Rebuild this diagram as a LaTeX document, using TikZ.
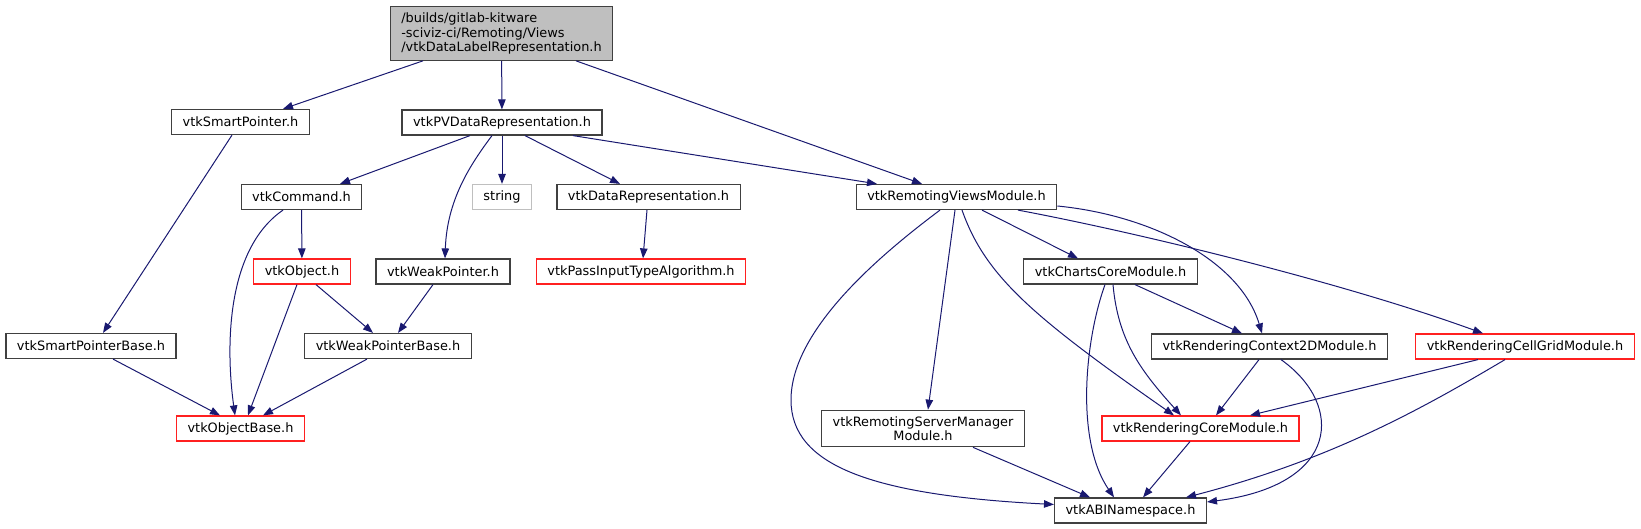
\documentclass[tikz,border=0pt]{standalone}
\usepackage{fontspec}
\setmainfont{DejaVu Sans}
\usetikzlibrary{arrows.meta}

\definecolor{edgeblue}{HTML}{191970}
\definecolor{boxgray}{HTML}{404040}
\definecolor{rootfill}{HTML}{BFBFBF}
\definecolor{stringgray}{HTML}{BFBFBF}
\definecolor{cutred}{HTML}{FF2020}

\tikzset{
	file/.style={draw=boxgray, line width=1.2pt, fill=white, rectangle, inner xsep=11pt, inner ysep=6pt, minimum height=25pt, font=\fontsize{12.9pt}{14.5pt}\selectfont, align=center},
	cutfile/.style={file, draw=cutred},
	sysfile/.style={file, draw=stringgray},
	rootfile/.style={file, fill=rootfill, align=left},
	dep/.style={->, draw=edgeblue, line width=1pt}
}

\begin{document}
\begin{tikzpicture}[x=1pt, y=-1pt, >={Triangle[length=10pt,width=7.5pt]}]
		\useasboundingbox (0,0) rectangle (1641,529);

		\draw (501.5,33.5) node[rootfile] (root) {/builds/gitlab-kitware\\-sciviz-ci/Remoting/Views\\/vtkDataLabelRepresentation.h};
		\draw (240.5,122) node[file] (smartptr) {vtkSmartPointer.h};
		\draw (502,122.5) node[file] (pvdatarep) {vtkPVDataRepresentation.h};
		\draw (301.5,197) node[file] (command) {vtkCommand.h};
		\draw (502,197) node[sysfile] (string) {string};
		\draw (648.5,197) node[file] (datarep) {vtkDataRepresentation.h};
		\draw (956.5,197) node[file] (remviews) {vtkRemotingViewsModule.h};
		\draw (302,271.5) node[cutfile] (object) {vtkObject.h};
		\draw (443,271.5) node[file] (weakptr) {vtkWeakPointer.h};
		\draw (641,271.5) node[cutfile] (passinput) {vtkPassInputTypeAlgorithm.h};
		\draw (1110.5,271.5) node[file] (charts) {vtkChartsCoreModule.h};
		\draw (91,346) node[file] (smartptrbase) {vtkSmartPointerBase.h};
		\draw (388,346) node[file] (weakptrbase) {vtkWeakPointerBase.h};
		\draw (1269.5,346.5) node[file] (rendctx) {vtkRenderingContext2DModule.h};
		\draw (1525,346.5) node[cutfile] (rendcell) {vtkRenderingCellGridModule.h};
		\draw (240.5,428.5) node[cutfile] (objbase) {vtkObjectBase.h};
		\draw (923,428.5) node[file] (remserver) {vtkRemotingServerManager\\Module.h};
		\draw (1200.5,428.5) node[cutfile] (rendcore) {vtkRenderingCoreModule.h};
		\draw (1130.5,510.5) node[file] (abins) {vtkABINamespace.h};

		\path[every edge/.append style={dep}]
		([xshift=-78.5pt]root.south) edge ([xshift=42.5pt]smartptr.north)
		(root) edge (pvdatarep)
		([xshift=74.5pt]root.south) edge ([xshift=-34.5pt]remviews.north)
		([xshift=-8.5pt]smartptr.south) edge ([xshift=12pt]smartptrbase.north)
		([xshift=-32pt]pvdatarep.south) edge ([xshift=38.5pt]command.north)
		(pvdatarep) edge (string)
		([xshift=23pt]pvdatarep.south) edge ([xshift=-28.5pt]datarep.north)
		([xshift=71pt]pvdatarep.south) edge ([xshift=-79.5pt]remviews.north)
		(command) edge (object)
		([xshift=-5pt]object.south) edge ([xshift=7.5pt]objbase.north)
		([xshift=14pt]object.south) edge ([xshift=-15pt]weakptrbase.north)
		([xshift=-10pt]weakptr.south) edge ([xshift=10pt]weakptrbase.north)
		([xshift=-1.5pt]datarep.south) edge ([xshift=2pt]passinput.north)
		([xshift=22pt]smartptrbase.south) edge ([xshift=-20.5pt]objbase.north)
		([xshift=-21pt]weakptrbase.south) edge ([xshift=22.5pt]objbase.north)
		([xshift=-1.5pt]remviews.south) edge ([xshift=5pt]remserver.north)
		([xshift=25.5pt]remviews.south) edge ([xshift=-32.5pt]charts.north)
		([xshift=24.5pt]charts.south) edge ([xshift=-27.5pt]rendctx.north)
		([xshift=-10.5pt]rendctx.south) edge ([xshift=15.5pt]rendcore.north)
		([xshift=-47pt]rendcell.south) edge ([xshift=49.5pt]rendcore.north)
		([xshift=50pt]remserver.south) edge ([xshift=-40.5pt]abins.north)
		([xshift=-10.5pt]rendcore.south) edge ([xshift=12.5pt]abins.north)
		;

		% curved dependencies
		\draw[dep] ([xshift=-10pt]pvdatarep.south) .. controls (470,165) and (447,200) .. ([xshift=2pt]weakptr.north);
		\draw[dep] ([xshift=-18.5pt]command.south) .. controls (225,250) and (226,350) .. ([xshift=-5.5pt]objbase.north);
		\draw[dep] ([xshift=-16.5pt]remviews.south) .. controls (880,255) and (791,330) .. (791,400) .. controls (791,465) and (870,495) .. ([yshift=6pt]abins.west);
		\draw[dep] ([xshift=5.5pt]remviews.south) .. controls (985,275) and (1030,315) .. ([xshift=-26.5pt]rendcore.north);
		\draw[dep] ([yshift=-9pt]remviews.east) .. controls (1150,215) and (1240,260) .. ([xshift=-7.5pt]rendctx.north);
		\draw[dep] ([xshift=61.5pt]remviews.south) .. controls (1150,235) and (1350,285) .. ([xshift=-42pt]rendcell.north);
		\draw[dep] ([xshift=-5.5pt]charts.south) .. controls (1085,340) and (1075,440) .. ([xshift=-16.5pt]abins.north);
		\draw[dep] ([xshift=2.5pt]charts.south) .. controls (1118,340) and (1140,370) .. ([xshift=-19.5pt]rendcore.north);
		\draw[dep] ([xshift=11.5pt]rendctx.south) .. controls (1345,405) and (1340,485) .. ([yshift=8.5pt]abins.east);
		\draw[dep] ([xshift=-20pt]rendcell.south) .. controls (1420,410) and (1330,460) .. ([xshift=55.5pt]abins.north);
	\end{tikzpicture}
\end{document}
